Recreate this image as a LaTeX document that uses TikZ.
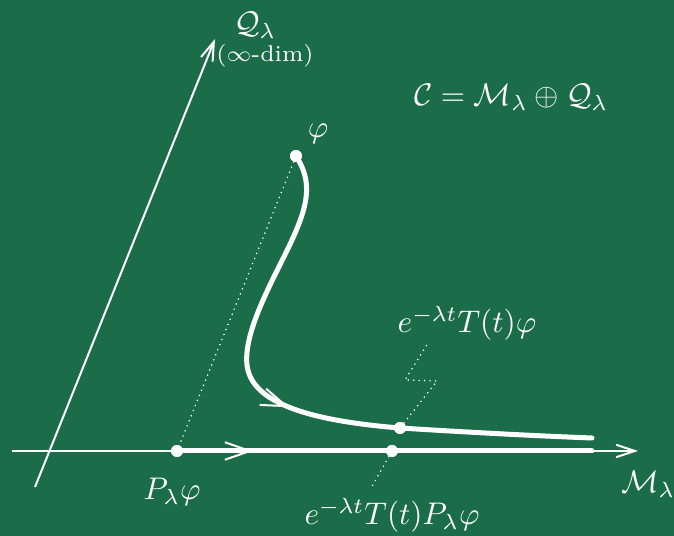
\documentclass[tikz,border=0pt]{standalone}
\usetikzlibrary{arrows.meta,decorations.markings}
\definecolor{board}{RGB}{27,108,72}
\begin{document}
\begin{tikzpicture}[x=0.32pt,y=-0.32pt,
  thinline/.style={white,line width=0.64pt},
  thickline/.style={white,line width=1.6pt,line cap=round},
  dotline/.style={white,line width=0.55pt,line cap=round,dash pattern=on 0pt off 1.75pt},
  dotpt/.style={circle,fill=white,inner sep=0pt,minimum size=3.8pt},
  lbl/.style={text=white,inner sep=1pt,anchor=base},
  axistip/.style={-{Straight Barb[length=6pt,width=4pt]}},
  midtip/.style={decoration={markings,mark=at position #1 with {\arrow{Straight Barb[line width=0.64pt,length=8pt,width=5.6pt]}}},postaction={decorate}}
]
\fill[board] (0,0) rectangle (674,536);
\useasboundingbox (0,0) rectangle (674,536);

% coordinates
\coordinate (hs) at (12,451);
\coordinate (he) at (638,451);
\coordinate (qs) at (35,487);
\coordinate (qe) at (215,39);
\coordinate (mend) at (592,451);
\coordinate (z1) at (437,381);
\coordinate (z2) at (405,380);
\coordinate (z3) at (428,343);
\coordinate (b1) at (370,490);

% labels
\node[lbl] (Qlab) at (255,34) {$\mathcal{Q}_\lambda$};
\node[lbl,font=\fontsize{7.3}{9}\selectfont] (dim) at (265,62) {($\infty$-dim)};
\node[lbl] (Ceq) at (511,106) {$\mathcal{C}=\mathcal{M}_\lambda\oplus\mathcal{Q}_\lambda$};
\node[lbl] (philab) at (318,138) {$\varphi$};
\node[lbl] (Tphi) at (467,333) {$e^{-\lambda t}T(t)\varphi$};
\node[lbl] (Plab) at (172,500) {$P_\lambda\varphi$};
\node[lbl] (Mlab) at (648,493) {$\mathcal{M}_\lambda$};
\node[lbl] (TPphi) at (392,525) {$e^{-\lambda t}T(t)P_\lambda\varphi$};

% points
\node[dotpt] (phi) at (296,156) {};
\node[dotpt] (P) at (177,451) {};
\node[dotpt] (cdot) at (400,428) {};
\node[dotpt] (mdot) at (392,451) {};

% axes
\draw[thinline,axistip] (hs) -- (he);
\draw[thinline,axistip] (qs) -- (qe);

% dotted
\draw[dotline] (phi) -- (P);
\draw[dotline] (mdot) -- (b1);
\draw[dotline] (cdot) -- (z1) -- (z2) -- (z3);

% thick lines
\draw[thickline,midtip=0.183] (P.center) -- (mend);
\draw[thickline,midtip=0.483] (phi.center)
  .. controls (313,182) and (308,205) .. (292,240)
  .. controls (276,275) and (243,330) .. (247,365)
  .. controls (251,400) and (300,420) .. (cdot.center)
  .. controls (480,433) and (540,436) .. (592,438);

% redraw points on top
\node[dotpt] at (phi) {};
\node[dotpt] at (P) {};
\node[dotpt] at (cdot) {};
\node[dotpt] at (mdot) {};
\end{tikzpicture}
\end{document}
